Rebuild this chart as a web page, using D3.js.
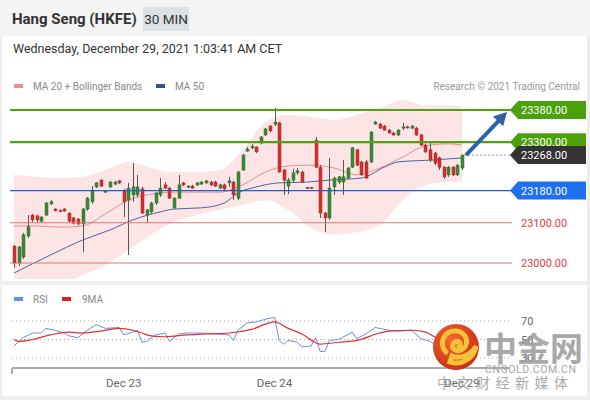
<!DOCTYPE html>
<html>
<head>
<meta charset="utf-8">
<script src="https://cdn.jsdelivr.net/npm/d3@7"></script>
<style>
  body { margin: 0; background: #fff; }
  svg { font-family: Roboto, "Liberation Sans", Arial, sans-serif; display: block; }
</style>
</head>
<body>
<div id="chart"></div>
<script>
// ---- data ----
const candleOpen = [23042,23000,23015,23067,23119,23117,23104,23119,23147,23134,23130,23134,23124,23112,23109,23097,23134,23152,23189,23206,
  23176,23189,23196,23204,23181,23156,23169,23169,23184,23119,23127,23149,23169,23194,23186,23137,23161,23199,23189,23191,
  23194,23196,23199,23201,23201,23186,23194,23199,23201,23161,23231,23278,23286,23288,23298,23318,23340,23345,23348,23231,
  23191,23206,23224,23226,23187,23187,23305,23238,23124,23112,23189,23201,23201,23211,23238,23281,23251,23251,23251,23345,
  23345,23340,23330,23323,23318,23335,23338,23335,23335,23318,23293,23281,23273,23261,23238,23219,23238,23219,23236];
const candleHigh = [23045,23042,23075,23119,23122,23120,23117,23152,23156,23136,23133,23136,23126,23114,23112,23137,23164,23191,23201,23208,
  23181,23204,23204,23206,23184,23199,23248,23219,23189,23134,23152,23176,23211,23201,23189,23164,23219,23201,23193,23194,
  23201,23204,23206,23204,23204,23197,23197,23214,23204,23229,23271,23288,23295,23290,23315,23335,23343,23385,23350,23234,
  23211,23234,23236,23229,23189,23189,23313,23243,23127,23261,23214,23216,23256,23238,23288,23283,23253,23256,23328,23353,
  23348,23343,23333,23326,23333,23348,23341,23343,23338,23321,23296,23298,23276,23264,23241,23241,23241,23246,23270];
const candleLow = [22988,22993,23010,23062,23102,23100,23100,23117,23144,23128,23126,23127,23102,23096,23094,23027,23130,23147,23186,23189,
  23174,23186,23193,23196,23114,23020,23152,23164,23122,23102,23122,23144,23164,23184,23159,23134,23159,23191,23186,23184,
  23191,23194,23196,23191,23189,23184,23181,23189,23156,23156,23229,23276,23283,23273,23295,23315,23325,23340,23224,23169,
  23171,23201,23219,23199,23185,23185,23236,23112,23077,23107,23169,23196,23169,23209,23236,23241,23216,23209,23248,23343,
  23333,23328,23321,23316,23316,23330,23334,23333,23316,23291,23273,23251,23243,23231,23209,23214,23216,23216,23231];
const candleClose = [23000,23040,23070,23090,23107,23107,23114,23149,23152,23130,23128,23129,23104,23099,23097,23134,23161,23181,23199,23191,
  23179,23201,23201,23199,23152,23186,23189,23189,23124,23132,23149,23174,23186,23186,23161,23161,23194,23194,23191,23186,
  23199,23201,23204,23194,23191,23194,23184,23204,23169,23226,23268,23283,23290,23276,23313,23333,23328,23350,23226,23206,
  23206,23224,23229,23201,23186,23186,23238,23124,23112,23186,23211,23214,23214,23236,23286,23243,23219,23211,23325,23350,
  23335,23330,23323,23318,23330,23338,23336,23340,23318,23293,23276,23256,23248,23238,23214,23238,23219,23243,23268];

// indicator samples (candle index -> value)
const bandIdx   = [0,5,10,15,20,25,30,35,40,45,50,55,60,65,70,75,80,85,90,95,98];
const bandUpper = [23219,23214,23211,23214,23231,23251,23236,23226,23226,23231,23281,23350,23368,23363,23355,23368,23385,23405,23392,23392,23390];
const bandLower = [22920,22933,22945,22970,22995,23032,23070,23102,23119,23132,23144,23156,23132,23087,23070,23077,23094,23156,23194,23201,23201];
const ma20      = [23092,23092,23089,23092,23122,23156,23171,23176,23176,23176,23194,23226,23241,23243,23236,23219,23236,23263,23291,23296,23293];
const ma50Idx   = [0,8,15,21,26,32,35,41,46,49,53,58,64,69,76,81,84,92,98];
const ma50      = [22975,23020,23057,23082,23107,23127,23134,23137,23149,23174,23189,23199,23201,23206,23211,23238,23251,23256,23261];

const rsiIdx = [0,2,4,6,7,9,11,12,14,16,18,20,23,24,26,27,28,29,31,33,34,36,38,41,44,47,48,49,51,53,55,57,58,59,60,62,63,65,66,67,68,69,71,74,75,77,79,82,84,87,89,91,93,95,97,98];
const rsiVal = [43,52,57,57,62,60,57,54,52,60,66,62,63,55,58,60,47,48,55,57,48,56,57,57,56,55,49,60,68,69,72,74,49,45,49,47,42,43,52,37,37,49,50,58,51,56,63,60,59,60,51,48,42,40,44,47];
const maRsiIdx = [0,1,4,8,12,15,19,23,26,28,30,33,38,42,47,52,57,60,63,67,71,75,80,82,87,90,92,95,98];
const maRsiVal = [50,48,50,55,58,57,59,62,60,57,54,53,55,56,57,61,69,62,56,45,47,49,57,59,60,58,53,48,45];

const levelValues = [23380, 23300, 23268, 23180, 23100, 23000];
const levelKinds  = ["resistance", "resistance", "last", "pivot", "support", "support"];
const rsiLevels   = [70, 50, 30];
const dateTicks   = [24, 57, 98];
const dateLabels  = ["Dec 23", "Dec 24", "Dec 29"];

// ---- drawing ----
const width = 590, height = 400;
const svg = d3.select("#chart").append("svg")
  .attr("width", width).attr("height", height);

svg.append("rect").attr("width", width).attr("height", height).attr("fill", "#eeeeee");
svg.append("rect").attr("x", 0).attr("y", 0).attr("width", width).attr("height", 36).attr("fill", "#f4f4f4");
svg.append("rect").attr("x", 2).attr("y", 36).attr("width", 585).attr("height", 245).attr("fill", "#fff");
svg.append("rect").attr("x", 2).attr("y", 285).attr("width", 585).attr("height", 111).attr("fill", "#fff");

// header
svg.append("text").attr("x", 12).attr("y", 24)
  .attr("font-size", 15).attr("font-weight", "bold").attr("fill", "#333")
  .text("Hang Seng (HKFE)");
svg.append("rect").attr("x", 143).attr("y", 7).attr("width", 46).attr("height", 24).attr("fill", "#dde0e5");
svg.append("text").attr("x", 166).attr("y", 24).attr("text-anchor", "middle")
  .attr("font-size", 13.5).attr("fill", "#333").text("30 MIN");
svg.append("text").attr("x", 13).attr("y", 53)
  .attr("font-size", 12.5).attr("fill", "#333")
  .text("Wednesday, December 29, 2021 1:03:41 AM CET");

// legend
const legend = svg.append("g").attr("font-size", 10).attr("fill", "#888");
legend.append("rect").attr("x", 14).attr("y", 84).attr("width", 9).attr("height", 4).attr("fill", "#f28b8b");
legend.append("text").attr("x", 33).attr("y", 90).text("MA 20 + Bollinger Bands");
legend.append("rect").attr("x", 156).attr("y", 84).attr("width", 9).attr("height", 4).attr("fill", "#2f5597");
legend.append("text").attr("x", 175).attr("y", 90).text("MA 50");
legend.append("text").attr("x", 580).attr("y", 90).attr("text-anchor", "end").attr("fill", "#999")
  .text("Research \u00a9 2021 Trading Central");

// scales
const xScale = d3.scaleLinear().domain([0, candleOpen.length - 1]).range([14, 462]);
const yScale = d3.scaleLinear().domain([23000, 23380]).range([263, 110]);

svg.append("defs").append("clipPath").attr("id", "plotClip")
  .append("rect").attr("x", 10).attr("y", 95).attr("width", 502).attr("height", 184);

const plot = svg.append("g").attr("clip-path", "url(#plotClip)");

// bollinger band
const band = bandIdx.map((d, i) => ({i: d, hi: bandUpper[i], lo: bandLower[i], mid: ma20[i]}));
plot.append("path").datum(band)
  .attr("fill", "#fde5e5")
  .attr("d", d3.area().curve(d3.curveMonotoneX)
    .x(d => xScale(d.i)).y0(d => yScale(d.lo)).y1(d => yScale(d.hi)));

// level lines
const levelStyle = {
  resistance: {stroke: "#4ea40f", width: 2.2, dash: null, box: "#4aa10a"},
  last: {stroke: "#999", width: 1, dash: "2,2", box: "#333"},
  pivot: {stroke: "#1f5fd6", width: 1.2, dash: null, box: "#1f6ff0"},
  support: {stroke: "#e57373", width: 1, dash: null, box: null}
};
levelValues.forEach((v, i) => {
  const s = levelStyle[levelKinds[i]];
  svg.append("line")
    .attr("x1", levelKinds[i] === "last" ? xScale(candleOpen.length - 1) + 2 : 10)
    .attr("x2", 512)
    .attr("y1", yScale(v)).attr("y2", yScale(v))
    .attr("stroke", s.stroke).attr("stroke-width", s.width)
    .attr("stroke-dasharray", s.dash);
});

// MA lines
plot.append("path").datum(band)
  .attr("fill", "none").attr("stroke", "#f08a8a").attr("stroke-width", 1)
  .attr("d", d3.line().curve(d3.curveMonotoneX).x(d => xScale(d.i)).y(d => yScale(d.mid)));
plot.append("path").datum(ma50Idx.map((d, i) => ({i: d, v: ma50[i]})))
  .attr("fill", "none").attr("stroke", "#4a62a8").attr("stroke-width", 1)
  .attr("d", d3.line().curve(d3.curveMonotoneX).x(d => xScale(d.i)).y(d => yScale(d.v)));

// candles
const candles = candleOpen.map((o, i) => ({i: i, o: o, h: candleHigh[i], l: candleLow[i], c: candleClose[i]}));
plot.selectAll(".wick").data(candles).enter().append("line")
  .attr("class", "wick")
  .attr("x1", d => Math.round(xScale(d.i)) + 0.5).attr("x2", d => Math.round(xScale(d.i)) + 0.5)
  .attr("y1", d => yScale(d.h)).attr("y2", d => yScale(d.l))
  .attr("stroke", "#555").attr("stroke-width", 1);
plot.selectAll(".body").data(candles).enter().append("rect")
  .attr("class", "body")
  .attr("x", d => Math.round(xScale(d.i)) - 1)
  .attr("width", 3)
  .attr("y", d => yScale(Math.max(d.o, d.c)))
  .attr("height", d => Math.max(1, Math.abs(yScale(d.o) - yScale(d.c))))
  .attr("fill", d => d.c >= d.o ? "#3a8a35" : "#d32f2f")
  .attr("stroke", d => d.c >= d.o ? "#2d6e29" : "#b02525").attr("stroke-width", 0.5);

// level labels
levelValues.forEach((v, i) => {
  const s = levelStyle[levelKinds[i]];
  const y = yScale(v);
  if (s.box) {
    svg.append("path")
      .attr("d", `M510,${y} L518,${y - 9} L586,${y - 9} L586,${y + 9} L518,${y + 9} Z`)
      .attr("fill", s.box);
  }
  svg.append("text").attr("x", 521).attr("y", y + 4)
    .attr("font-size", 11).attr("fill", s.box ? "#fff" : "#e53935")
    .text(d3.format(".2f")(v));
});

// forecast arrow
const ax0 = xScale(candleOpen.length - 1) + 4, ay0 = yScale(23268);
const ax1 = 507, ay1 = yScale(23380) + 2;
const ang = Math.atan2(ay1 - ay0, ax1 - ax0);
svg.append("line")
  .attr("x1", ax0).attr("y1", ay0)
  .attr("x2", ax1 - 9 * Math.cos(ang)).attr("y2", ay1 - 9 * Math.sin(ang))
  .attr("stroke", "#2e62a6").attr("stroke-width", 4);
svg.append("path")
  .attr("d", `M${ax1},${ay1} L${ax1 - 13 * Math.cos(ang) + 7 * Math.sin(ang)},${ay1 - 13 * Math.sin(ang) - 7 * Math.cos(ang)} L${ax1 - 13 * Math.cos(ang) - 7 * Math.sin(ang)},${ay1 - 13 * Math.sin(ang) + 7 * Math.cos(ang)} Z`)
  .attr("fill", "#2e62a6");

// ---- RSI panel ----
const rsiScale = d3.scaleLinear().domain([30, 70]).range([358, 321]);
const rsiLegend = svg.append("g").attr("font-size", 10).attr("fill", "#888");
rsiLegend.append("rect").attr("x", 14).attr("y", 297).attr("width", 9).attr("height", 4).attr("fill", "#6a8ee0");
rsiLegend.append("text").attr("x", 33).attr("y", 303).text("RSI");
rsiLegend.append("rect").attr("x", 62).attr("y", 297).attr("width", 9).attr("height", 4).attr("fill", "#e02020");
rsiLegend.append("text").attr("x", 82).attr("y", 303).text("9MA");

rsiLevels.forEach(v => {
  svg.append("line").attr("x1", 12).attr("x2", 510)
    .attr("y1", rsiScale(v)).attr("y2", rsiScale(v))
    .attr("stroke", "#aaa").attr("stroke-width", 1).attr("stroke-dasharray", "1,3");
  svg.append("text").attr("x", 521).attr("y", rsiScale(v) + 4)
    .attr("font-size", 11).attr("fill", "#666").text(v);
});

svg.append("path").datum(rsiIdx.map((d, i) => ({i: d, v: rsiVal[i]})))
  .attr("fill", "none").attr("stroke", "#6a8ee0").attr("stroke-width", 1)
  .attr("d", d3.line().x(d => xScale(d.i)).y(d => rsiScale(d.v)));
svg.append("path").datum(maRsiIdx.map((d, i) => ({i: d, v: maRsiVal[i]})))
  .attr("fill", "none").attr("stroke", "#e03030").attr("stroke-width", 1.2)
  .attr("d", d3.line().curve(d3.curveMonotoneX).x(d => xScale(d.i)).y(d => rsiScale(d.v)));

// x axis
svg.append("line").attr("x1", 12).attr("x2", 510).attr("y1", 368).attr("y2", 368)
  .attr("stroke", "#aaa").attr("stroke-width", 2);
svg.append("line").attr("x1", 12).attr("x2", 12).attr("y1", 368).attr("y2", 374)
  .attr("stroke", "#aaa").attr("stroke-width", 2);
svg.selectAll(".dateLabel").data(dateTicks).enter().append("text")
  .attr("class", "dateLabel")
  .attr("x", d => xScale(d)).attr("y", 387)
  .attr("text-anchor", "middle").attr("font-size", 11.5).attr("fill", "#666")
  .text((d, i) => dateLabels[i]);

// watermark
const wm = svg.append("g");
const grad = svg.select("defs").append("radialGradient").attr("id", "logoGrad")
  .attr("cx", "40%").attr("cy", "35%").attr("r", "70%");
grad.append("stop").attr("offset", "0%").attr("stop-color", "#f26a2a");
grad.append("stop").attr("offset", "100%").attr("stop-color", "#c9281a");
wm.append("circle").attr("cx", 456).attr("cy", 347).attr("r", 23).attr("fill", "url(#logoGrad)");
wm.append("path")
  .attr("d", "M446,352 C438,344 444,330 456,331 C468,332 470,346 461,350 C455,353 449,346 455,342 C459,340 462,344 459,346 M452,356 C460,360 472,354 476,346 C474,358 462,366 450,362 Z")
  .attr("fill", "none").attr("stroke", "#f7c23a").attr("stroke-width", 5).attr("stroke-linecap", "round");
wm.append("text").attr("x", 484).attr("y", 361)
  .attr("font-family", "'Noto Sans CJK SC', sans-serif").attr("font-size", 33).attr("font-weight", "bold")
  .attr("fill", "#9b9b9b").attr("opacity", 0.85).text("中金网");
wm.append("text").attr("x", 485).attr("y", 373)
  .attr("font-size", 10.5).attr("fill", "#a5a5a5").attr("letter-spacing", 0.6).text("CNGOLD.COM.CN");
wm.append("text").attr("x", 437).attr("y", 388)
  .attr("font-family", "'Noto Sans CJK SC', sans-serif").attr("font-size", 14)
  .attr("fill", "#9b9b9b").attr("opacity", 0.85).attr("letter-spacing", 5.5).text("中文财经新媒体");
</script>
</body>
</html>
